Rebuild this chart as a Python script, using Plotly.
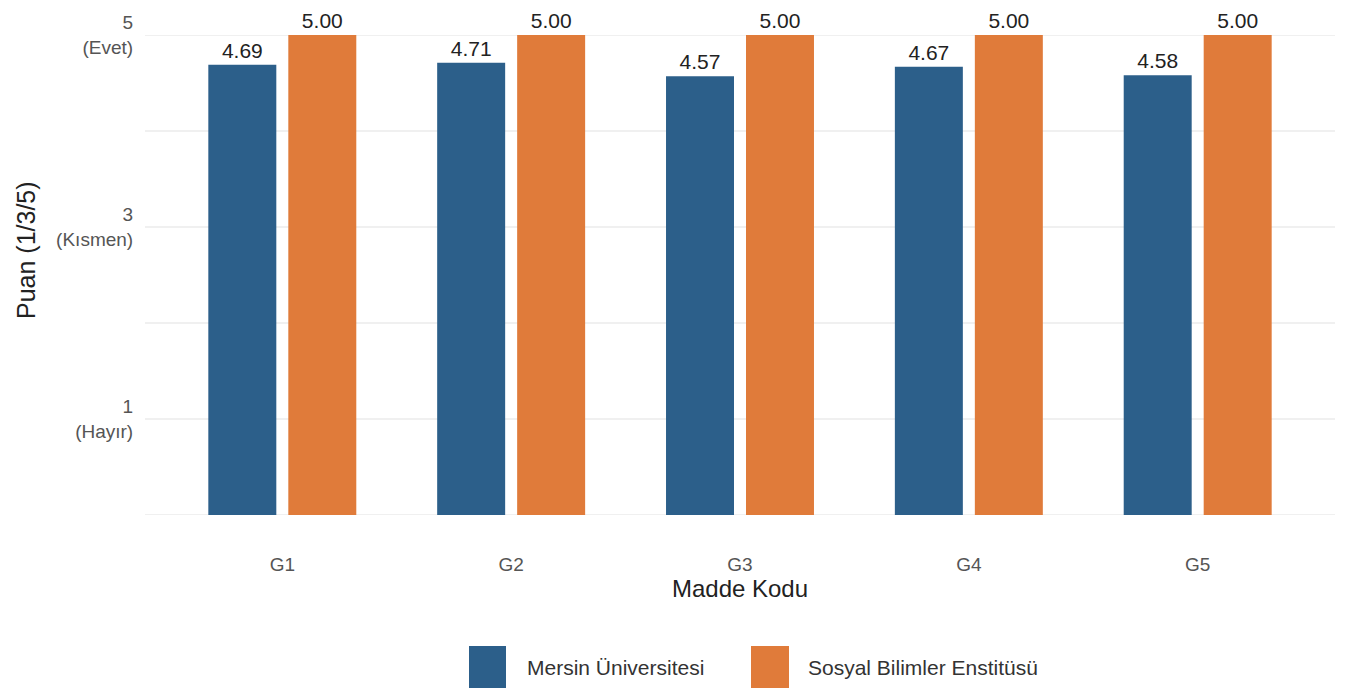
import plotly.graph_objects as go

categories = ["G1", "G2", "G3", "G4", "G5"]
mersin = [4.69, 4.71, 4.57, 4.67, 4.58]
sbe = [5.00, 5.00, 5.00, 5.00, 5.00]
series_names = ["Mersin Üniversitesi", "Sosyal Bilimler Enstitüsü"]
colors = ["#2C5F8A", "#E07B3A"]
tick_vals = [1, 3, 5]
tick_text = ["1<br>(Hayır)", "3<br>(Kısmen)", "5<br>(Evet)"]

FONT = "Liberation Sans, Arial, sans-serif"

fig = go.Figure()
for name, vals, col in zip(series_names, [mersin, sbe], colors):
    fig.add_trace(go.Bar(
        x=categories, y=vals, name=name,
        marker=dict(color=col, line=dict(width=0)),
        text=[f"{v:.2f}" for v in vals],
        textposition="outside",
        textfont=dict(family=FONT, size=21, color="#222222"),
        cliponaxis=False,
        showlegend=False,
    ))

OFF = 8  # page body margin offset
W, H = 1352, 691
L, T = 145 - OFF, 35 - OFF
R = W - (1335 - OFF)
B = H - (515 - OFF)
pw = W - L - R
ph = H - T - B

fig.update_layout(
    width=W, height=H,
    margin=dict(l=L, r=R, t=T, b=B, autoexpand=False),
    barmode="group", bargap=0.301, bargroupgap=0.15,
    plot_bgcolor="white", paper_bgcolor="white",
    font=dict(family=FONT),
    xaxis=dict(
        range=[-0.6, 4.6], showgrid=False, zeroline=False, showline=False,
        automargin=False,
        ticks="outside", ticklen=32, tickcolor="rgba(0,0,0,0)",
        tickfont=dict(size=19, color="#555555"),
        title=dict(text="Madde Kodu", font=dict(size=24, color="#222222"), standoff=2),
    ),
    yaxis=dict(
        range=[0, 5], tickvals=tick_vals, ticktext=tick_text,
        showgrid=False, zeroline=False, showline=False,
        automargin=False,
        ticks="outside", ticklen=7, tickcolor="rgba(0,0,0,0)",
        tickfont=dict(size=19, color="#555555"),
    ),
)

for g in range(0, 6):
    fig.add_shape(type="line", xref="paper", yref="y", x0=0, x1=1, y0=g, y1=g,
                  line=dict(color="#EBEBEB", width=1.5), layer="below")

def px_x(p):
    return (p - OFF - L) / pw

def px_y(p):
    return (H - B - (p - OFF)) / ph

# y-axis title
fig.add_annotation(xref="paper", yref="paper", x=px_x(26), y=px_y(250),
                   text="Puan (1/3/5)", textangle=-90, showarrow=False,
                   xanchor="center", yanchor="middle",
                   font=dict(family=FONT, size=25, color="#222222"))

legend_items = [(469, 506, 525), (751, 789, 806)]
for (s0, s1, tx), name, col in zip(legend_items, series_names, colors):
    fig.add_shape(type="rect", xref="paper", yref="paper",
                  x0=px_x(s0), x1=px_x(s1), y0=px_y(646), y1=px_y(688),
                  fillcolor=col, line=dict(width=0))
    fig.add_annotation(xref="paper", yref="paper", x=px_x(tx), y=px_y(667),
                       text=name, showarrow=False, xanchor="left", yanchor="middle",
                       font=dict(family=FONT, size=21, color="#333333"))

fig.write_html("out.html")
